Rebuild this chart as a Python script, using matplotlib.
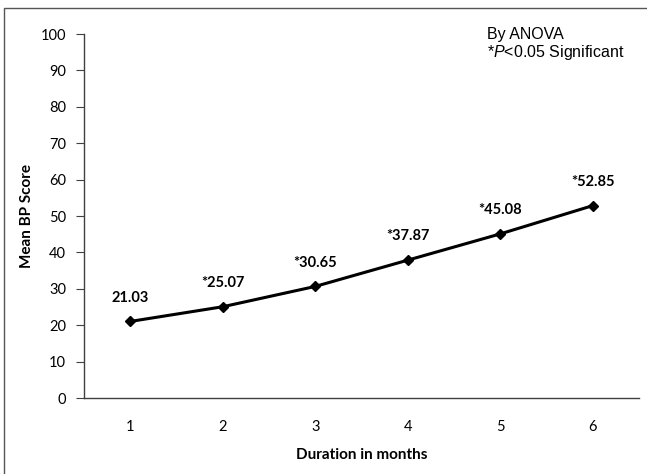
import matplotlib
matplotlib.use("Agg")
import matplotlib.pyplot as plt
from matplotlib.patches import Rectangle

plt.rcParams['mathtext.fontset'] = 'custom'
plt.rcParams['mathtext.rm'] = 'Liberation Sans'
plt.rcParams['mathtext.it'] = 'Liberation Sans:italic'

months = [1, 2, 3, 4, 5, 6]
scores = [21.03, 25.07, 30.65, 37.87, 45.08, 52.85]
labels = ["21.03", "*25.07", "*30.65", "*37.87", "*45.08", "*52.85"]
yticks = [0, 10, 20, 30, 40, 50, 60, 70, 80, 90, 100]

W, H = 647, 474
fig = plt.figure(figsize=(W/100, H/100), dpi=100)
fig.patches.append(Rectangle((4/W, -0.1), 1.2, (H-8)/H + 0.1, transform=fig.transFigure,
                             fill=False, edgecolor="#555555", linewidth=1.0))
ax = fig.add_axes([84/W, 1-398/H, (639-84)/W, (398-34)/H])
ax.plot(months, scores, color="black", linewidth=2.2, marker="D", markersize=5.5)
ax.set_xlim(0.5, 6.5)
ax.set_ylim(0, 100)
ax.set_yticks(yticks)
ax.set_xticks(months)
for s in ["top", "right"]:
    ax.spines[s].set_visible(False)
for s in ["left", "bottom"]:
    ax.spines[s].set_color("#404040")
    ax.spines[s].set_linewidth(1.0)
ax.tick_params(axis="y", length=6, color="#404040", labelsize=10.5, pad=7)
ax.tick_params(axis="x", length=0, labelsize=10.5, pad=16)
for t in ax.get_xticklabels() + ax.get_yticklabels():
    t.set_fontfamily("Lato")
for x, y, l in zip(months, scores, labels):
    ax.annotate(l, (x, y), xytext=(0, 12), textcoords="offset points", ha="center",
                va="bottom", fontsize=10.5, fontweight="bold", family="Lato")
ax.set_xlabel("Duration in months", fontsize=11, fontweight="bold", family="Lato", labelpad=10)
ax.set_ylabel("Mean BP Score", fontsize=11, fontweight="bold", family="Lato")
ax.yaxis.set_label_coords(-0.09, 0.5)
fig.text(487/W, 1-35/H, "By ANOVA", fontsize=11.5, family="Liberation Sans", va="center")
fig.text(487/W, 1-52/H, "*$\\it{P}$<0.05 Significant", fontsize=11.5, family="Liberation Sans", va="center")
fig.savefig("out.png", dpi=100)
